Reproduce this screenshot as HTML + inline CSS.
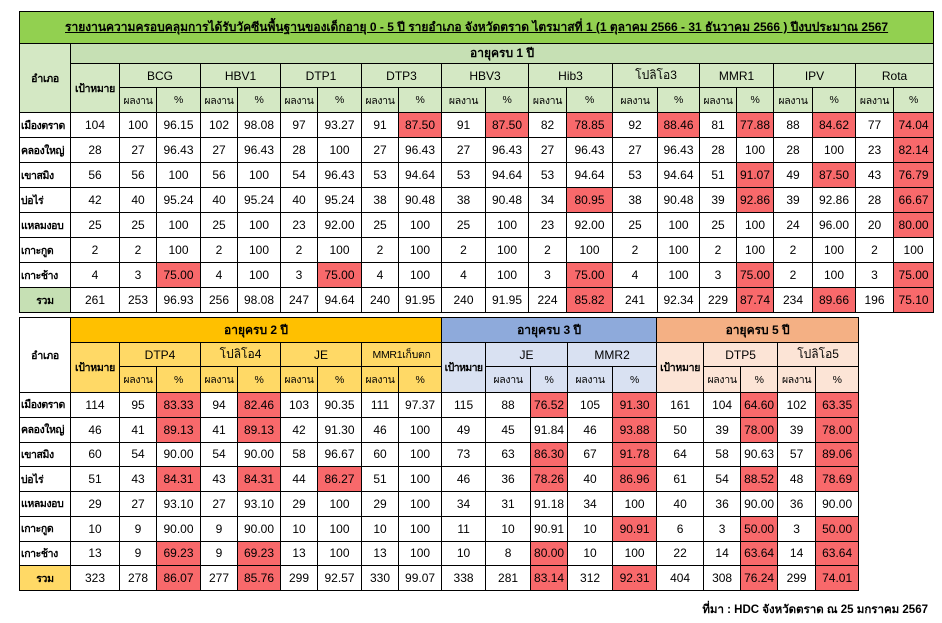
<!DOCTYPE html>
<html><head><meta charset="utf-8">
<style>
body{margin:0;width:942px;height:623px;background:#fff;font-family:"Liberation Sans","Tahoma",sans-serif;font-size:12px;color:#000;position:relative;overflow:hidden}
table{border-collapse:collapse;table-layout:fixed;position:absolute;left:19px}
td{border:1px solid #000;text-align:center;padding:0;white-space:nowrap;overflow:hidden}
.r{background:#f8696b}
.n{font-weight:bold;text-align:left;padding-left:1px;font-size:10.5px;letter-spacing:-0.4px}
.t{font-size:10.5px;letter-spacing:-0.3px}
tr.s td{font-size:10.5px;letter-spacing:-0.3px}
.g1{background:#92d050}.g2{background:#c6e0b4}.g3{background:#d4e8c4}
.y1{background:#ffc000}.y2{background:#ffd966}
.b1{background:#8eaadb}.b2{background:#d9e1f2}
.o1{background:#f4b084}.o2{background:#fce4d6}
#t1 tr.d td{height:24px}
#t2 tr.d td{height:23.75px}
</style></head><body>
<table id="t1" style="top:11px;width:915px">
<colgroup><col style="width:51px"><col style="width:49px"><col style="width:37px"><col style="width:44px"><col style="width:37px"><col style="width:43px"><col style="width:37px"><col style="width:44px"><col style="width:37px"><col style="width:43px"><col style="width:44px"><col style="width:43px"><col style="width:38px"><col style="width:46px"><col style="width:45px"><col style="width:42px"><col style="width:37px"><col style="width:37px"><col style="width:39px"><col style="width:43px"><col style="width:38px"><col style="width:40px"></colgroup>
<tr><td colspan="22" class="g1" style="height:31px;font-weight:bold;text-decoration:underline">รายงานความครอบคลุมการได้รับวัคซีนพื้นฐานของเด็กอายุ 0 - 5 ปี รายอำเภอ จังหวัดตราด ไตรมาสที่ 1 (1 ตุลาคม 2566 - 31 ธันวาคม 2566 ) ปีงบประมาณ 2567</td></tr>
<tr><td rowspan="3" class="g3 t" style="font-weight:bold">อำเภอ</td><td colspan="21" class="g2" style="height:18px;font-weight:bold">อายุครบ 1 ปี</td></tr>
<tr><td rowspan="2" class="g3 t" style="font-weight:bold">เป้าหมาย</td><td colspan="2" class="g3" style="height:23px">BCG</td><td colspan="2" class="g3">HBV1</td><td colspan="2" class="g3">DTP1</td><td colspan="2" class="g3">DTP3</td><td colspan="2" class="g3">HBV3</td><td colspan="2" class="g3">Hib3</td><td colspan="2" class="g3">โปลิโอ3</td><td colspan="2" class="g3">MMR1</td><td colspan="2" class="g3">IPV</td><td colspan="2" class="g3">Rota</td></tr>
<tr class="g3 s"><td style="height:24px">ผลงาน</td><td>%</td><td>ผลงาน</td><td>%</td><td>ผลงาน</td><td>%</td><td>ผลงาน</td><td>%</td><td>ผลงาน</td><td>%</td><td>ผลงาน</td><td>%</td><td>ผลงาน</td><td>%</td><td>ผลงาน</td><td>%</td><td>ผลงาน</td><td>%</td><td>ผลงาน</td><td>%</td></tr>
<tr class="d"><td class="n">เมืองตราด</td><td>104</td><td>100</td><td>96.15</td><td>102</td><td>98.08</td><td>97</td><td>93.27</td><td>91</td><td class="r">87.50</td><td>91</td><td class="r">87.50</td><td>82</td><td class="r">78.85</td><td>92</td><td class="r">88.46</td><td>81</td><td class="r">77.88</td><td>88</td><td class="r">84.62</td><td>77</td><td class="r">74.04</td></tr>
<tr class="d"><td class="n">คลองใหญ่</td><td>28</td><td>27</td><td>96.43</td><td>27</td><td>96.43</td><td>28</td><td>100</td><td>27</td><td>96.43</td><td>27</td><td>96.43</td><td>27</td><td>96.43</td><td>27</td><td>96.43</td><td>28</td><td>100</td><td>28</td><td>100</td><td>23</td><td class="r">82.14</td></tr>
<tr class="d"><td class="n">เขาสมิง</td><td>56</td><td>56</td><td>100</td><td>56</td><td>100</td><td>54</td><td>96.43</td><td>53</td><td>94.64</td><td>53</td><td>94.64</td><td>53</td><td>94.64</td><td>53</td><td>94.64</td><td>51</td><td class="r">91.07</td><td>49</td><td class="r">87.50</td><td>43</td><td class="r">76.79</td></tr>
<tr class="d"><td class="n">บ่อไร่</td><td>42</td><td>40</td><td>95.24</td><td>40</td><td>95.24</td><td>40</td><td>95.24</td><td>38</td><td>90.48</td><td>38</td><td>90.48</td><td>34</td><td class="r">80.95</td><td>38</td><td>90.48</td><td>39</td><td class="r">92.86</td><td>39</td><td>92.86</td><td>28</td><td class="r">66.67</td></tr>
<tr class="d"><td class="n">แหลมงอบ</td><td>25</td><td>25</td><td>100</td><td>25</td><td>100</td><td>23</td><td>92.00</td><td>25</td><td>100</td><td>25</td><td>100</td><td>23</td><td>92.00</td><td>25</td><td>100</td><td>25</td><td>100</td><td>24</td><td>96.00</td><td>20</td><td class="r">80.00</td></tr>
<tr class="d"><td class="n">เกาะกูด</td><td>2</td><td>2</td><td>100</td><td>2</td><td>100</td><td>2</td><td>100</td><td>2</td><td>100</td><td>2</td><td>100</td><td>2</td><td>100</td><td>2</td><td>100</td><td>2</td><td>100</td><td>2</td><td>100</td><td>2</td><td>100</td></tr>
<tr class="d"><td class="n">เกาะช้าง</td><td>4</td><td>3</td><td class="r">75.00</td><td>4</td><td>100</td><td>3</td><td class="r">75.00</td><td>4</td><td>100</td><td>4</td><td>100</td><td>3</td><td class="r">75.00</td><td>4</td><td>100</td><td>3</td><td class="r">75.00</td><td>2</td><td>100</td><td>3</td><td class="r">75.00</td></tr>
<tr class="d"><td class="g2 t" style="font-weight:bold">รวม</td><td>261</td><td>253</td><td>96.93</td><td>256</td><td>98.08</td><td>247</td><td>94.64</td><td>240</td><td>91.95</td><td>240</td><td>91.95</td><td>224</td><td class="r">85.82</td><td>241</td><td>92.34</td><td>229</td><td class="r">87.74</td><td>234</td><td class="r">89.66</td><td>196</td><td class="r">75.10</td></tr>
</table>

<table id="t2" style="top:317px;width:839px">
<colgroup><col style="width:51px"><col style="width:49px"><col style="width:37px"><col style="width:44px"><col style="width:37px"><col style="width:43px"><col style="width:37px"><col style="width:44px"><col style="width:37px"><col style="width:43px"><col style="width:44px"><col style="width:45px"><col style="width:37px"><col style="width:45px"><col style="width:44px"><col style="width:47px"><col style="width:37px"><col style="width:37px"><col style="width:38px"><col style="width:43px"></colgroup>
<tr><td rowspan="3" class="t" style="font-weight:bold">อำเภอ</td><td colspan="9" class="y1" style="height:24px;font-weight:bold">อายุครบ 2 ปี</td><td colspan="5" class="b1" style="font-weight:bold">อายุครบ 3 ปี</td><td colspan="5" class="o1" style="font-weight:bold">อายุครบ 5 ปี</td></tr>
<tr><td rowspan="2" class="y2 t" style="font-weight:bold">เป้าหมาย</td><td colspan="2" class="y2" style="height:23px">DTP4</td><td colspan="2" class="y2">โปลิโอ4</td><td colspan="2" class="y2">JE</td><td colspan="2" class="y2 t">MMR1เก็บตก</td><td rowspan="2" class="b2 t" style="font-weight:bold;letter-spacing:-0.6px">เป้าหมาย</td><td colspan="2" class="b2">JE</td><td colspan="2" class="b2">MMR2</td><td rowspan="2" class="o2 t" style="font-weight:bold">เป้าหมาย</td><td colspan="2" class="o2">DTP5</td><td colspan="2" class="o2">โปลิโอ5</td></tr>
<tr class="s"><td class="y2" style="height:25px">ผลงาน</td><td class="y2">%</td><td class="y2">ผลงาน</td><td class="y2">%</td><td class="y2">ผลงาน</td><td class="y2">%</td><td class="y2">ผลงาน</td><td class="y2">%</td><td class="b2">ผลงาน</td><td class="b2">%</td><td class="b2">ผลงาน</td><td class="b2">%</td><td class="o2">ผลงาน</td><td class="o2">%</td><td class="o2">ผลงาน</td><td class="o2">%</td></tr>
<tr class="d"><td class="n">เมืองตราด</td><td>114</td><td>95</td><td class="r">83.33</td><td>94</td><td class="r">82.46</td><td>103</td><td>90.35</td><td>111</td><td>97.37</td><td>115</td><td>88</td><td class="r">76.52</td><td>105</td><td class="r">91.30</td><td>161</td><td>104</td><td class="r">64.60</td><td>102</td><td class="r">63.35</td></tr>
<tr class="d"><td class="n">คลองใหญ่</td><td>46</td><td>41</td><td class="r">89.13</td><td>41</td><td class="r">89.13</td><td>42</td><td>91.30</td><td>46</td><td>100</td><td>49</td><td>45</td><td>91.84</td><td>46</td><td class="r">93.88</td><td>50</td><td>39</td><td class="r">78.00</td><td>39</td><td class="r">78.00</td></tr>
<tr class="d"><td class="n">เขาสมิง</td><td>60</td><td>54</td><td>90.00</td><td>54</td><td>90.00</td><td>58</td><td>96.67</td><td>60</td><td>100</td><td>73</td><td>63</td><td class="r">86.30</td><td>67</td><td class="r">91.78</td><td>64</td><td>58</td><td>90.63</td><td>57</td><td class="r">89.06</td></tr>
<tr class="d"><td class="n">บ่อไร่</td><td>51</td><td>43</td><td class="r">84.31</td><td>43</td><td class="r">84.31</td><td>44</td><td class="r">86.27</td><td>51</td><td>100</td><td>46</td><td>36</td><td class="r">78.26</td><td>40</td><td class="r">86.96</td><td>61</td><td>54</td><td class="r">88.52</td><td>48</td><td class="r">78.69</td></tr>
<tr class="d"><td class="n">แหลมงอบ</td><td>29</td><td>27</td><td>93.10</td><td>27</td><td>93.10</td><td>29</td><td>100</td><td>29</td><td>100</td><td>34</td><td>31</td><td>91.18</td><td>34</td><td>100</td><td>40</td><td>36</td><td>90.00</td><td>36</td><td>90.00</td></tr>
<tr class="d"><td class="n">เกาะกูด</td><td>10</td><td>9</td><td>90.00</td><td>9</td><td>90.00</td><td>10</td><td>100</td><td>10</td><td>100</td><td>11</td><td>10</td><td>90.91</td><td>10</td><td class="r">90.91</td><td>6</td><td>3</td><td class="r">50.00</td><td>3</td><td class="r">50.00</td></tr>
<tr class="d"><td class="n">เกาะช้าง</td><td>13</td><td>9</td><td class="r">69.23</td><td>9</td><td class="r">69.23</td><td>13</td><td>100</td><td>13</td><td>100</td><td>10</td><td>8</td><td class="r">80.00</td><td>10</td><td>100</td><td>22</td><td>14</td><td class="r">63.64</td><td>14</td><td class="r">63.64</td></tr>
<tr class="d"><td class="y2 t" style="font-weight:bold">รวม</td><td>323</td><td>278</td><td class="r">86.07</td><td>277</td><td class="r">85.76</td><td>299</td><td>92.57</td><td>330</td><td>99.07</td><td>338</td><td>281</td><td class="r">83.14</td><td>312</td><td class="r">92.31</td><td>404</td><td>308</td><td class="r">76.24</td><td>299</td><td class="r">74.01</td></tr>
</table>
<div style="position:absolute;right:14px;top:601px;font-weight:bold;font-size:11.5px">ที่มา : HDC จังหวัดตราด ณ 25 มกราคม 2567</div>
</body></html>
